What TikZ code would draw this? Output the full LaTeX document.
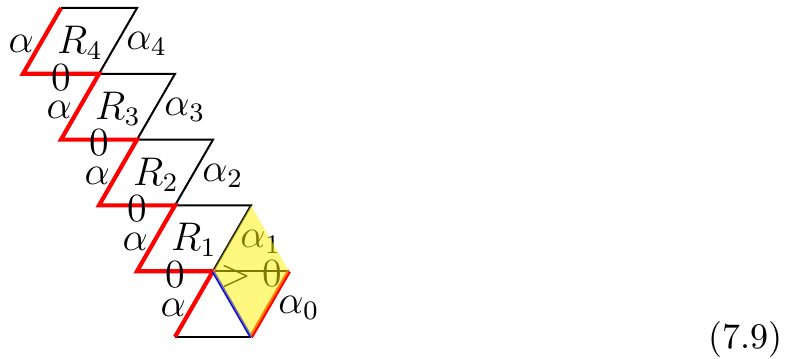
\documentclass[tikz,border=0pt]{standalone}
\usetikzlibrary{calc}
\begin{document}
\begin{tikzpicture}[x=0.3pt,y=0.3pt,
  edge/.style={line width=0.6pt},
  redge/.style={red,line width=1.25pt},
  bedge/.style={blue,line width=0.9pt},
  lab/.style={font=\fontsize{12}{14}\selectfont},
  lft/.style={lab,anchor=east,inner sep=2.3pt,yshift=-1pt},
  rgt/.style={lab,anchor=west,inner sep=2.3pt,yshift=-1pt},
  mid/.style={lab,inner sep=0pt,yshift=-1pt},
  ctr/.style={lab,inner sep=0pt,yshift=-0.6pt},
  hl/.style={fill=yellow,fill opacity=0.5}]
\useasboundingbox (0,0) rectangle (793,358);
% lattice points
\coordinate (r1bl) at (137,86.8);
\coordinate (r1br) at (213,86.8);
\coordinate (r1tl) at (175,152.6);
\coordinate (r1tr) at (251,152.6);
\coordinate (r2bl) at (99,152.6);
\coordinate (r2br) at (175,152.6);
\coordinate (r2tl) at (137,218.4);
\coordinate (r2tr) at (213,218.4);
\coordinate (r3bl) at (61,218.4);
\coordinate (r3br) at (137,218.4);
\coordinate (r3tl) at (99,284.2);
\coordinate (r3tr) at (175,284.2);
\coordinate (r4bl) at (23,284.2);
\coordinate (r4br) at (99,284.2);
\coordinate (r4tl) at (61,350);
\coordinate (r4tr) at (137,350);
\coordinate (tA) at (175,21);
\coordinate (tB) at (251,21);
\coordinate (yR) at (289,86.8);
% black edges
\foreach \k in {1,2,3,4}{
  \draw[edge] (r\k tl) -- (r\k tr) -- (r\k br);
}
\draw[edge] (tA) -- (tB);
\draw[edge] (r1br) -- (yR);
% red edges
\draw[redge] (r4tl) -- (r4bl) -- (r4br) -- (r3bl) -- (r3br) -- (r2bl) -- (r2br) -- (r1bl) -- (r1br) -- (tA);
\draw[redge] (yR) -- (tB);
% blue edge
\draw[bedge] (r1br) -- (tB);
% labels
\foreach \k in {1,2,3,4}{
  \node[ctr] (R\k) at ($(r\k bl)!0.5!(r\k tr)$) {$R_{\k}$};
  \node[rgt] (ar\k) at ($(r\k tr)!0.5!(r\k br)$) {$\alpha_{\k}$};
  \node[lft] (al\k) at ($(r\k tl)!0.5!(r\k bl)$) {$\alpha$};
  \node[mid] (z\k) at ($(r\k bl)!0.5!(r\k br)$) {$0$};
}
\node[lft] (alt) at ($(r1br)!0.5!(tA)$) {$\alpha$};
\node[mid] (gt) at ($(r1br)!0.5!(yR)$) {$>0$};
\node[rgt] (a0) at ($(yR)!0.5!(tB)$) {$\alpha_0$};
% highlighted rhombus
\path[hl] (r1br) -- (r1tr) -- (yR) -- (tB) -- cycle;
% equation number
\node[font=\fontsize{10.8}{13}\selectfont] (eq) at (745,19) {(7.9)};
\end{tikzpicture}
\end{document}
